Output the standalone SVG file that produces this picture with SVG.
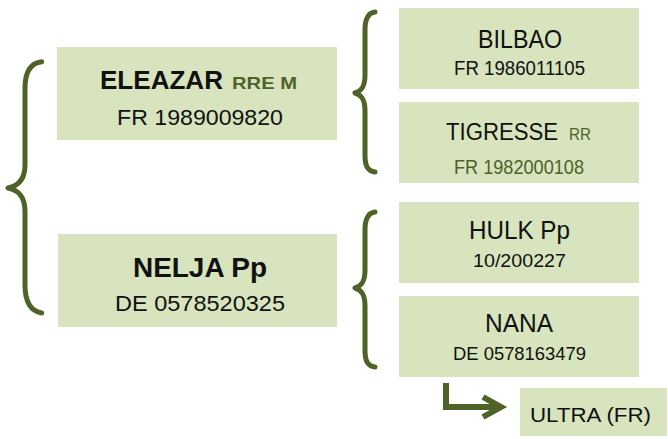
<svg xmlns="http://www.w3.org/2000/svg" width="668" height="439" viewBox="0 0 668 439">
<style>
.box{fill:#d7e4bd}
.br{fill:none;stroke:#4f6228;stroke-width:5;stroke-linecap:round;stroke-linejoin:round}
.ar{fill:none;stroke:#4f6228;stroke-width:6;stroke-linejoin:miter}
text{font-family:"Liberation Sans",Arial,sans-serif;fill:#111}
.b{font-weight:bold}
.g{fill:#4f6228}
</style>
<rect width="668" height="439" fill="#fff"/>
<g id="connectors">
<path class="br" d="M41.7,61.7 C30,63 25,72 25,88 L25,165 C25,180 18,186 8,188 C18,190 25,196 25,212 L25,285 C25,301 30,311 41.7,313"/>
<path class="br" d="M375,12 C367,13 365,20 365,30 L365,75 C365,86 362,91 355,93 C362,95 365,100 365,111 L365,155 C365,165 367,171 375,172"/>
<path class="br" d="M375,212 C367,213 365,220 365,230 L365,270 C365,281 362,286 355,288 C362,290 365,295 365,306 L365,350 C365,360 367,366 375,367"/>
<path class="ar" d="M446,383 L446,407 L500,407"/>
<path class="ar" d="M483,397 L501,407 L483,417"/>
</g>
<g id="eleazar">
<rect class="box" x="57" y="47" width="280" height="93"/>
<text class="b" x="100" y="89" font-size="25" textLength="123" lengthAdjust="spacingAndGlyphs">ELEAZAR</text>
<text class="b g" x="232" y="89" font-size="16.5" textLength="65" lengthAdjust="spacingAndGlyphs">RRE M</text>
<text x="117" y="125" font-size="22.5" textLength="166" lengthAdjust="spacingAndGlyphs">FR 1989009820</text>
</g>
<g id="nelja">
<rect class="box" x="58" y="234" width="279" height="93"/>
<text class="b" x="133" y="277" font-size="28" textLength="134" lengthAdjust="spacingAndGlyphs">NELJA Pp</text>
<text x="115" y="311" font-size="22.5" textLength="170" lengthAdjust="spacingAndGlyphs">DE 0578520325</text>
</g>
<g id="bilbao">
<rect class="box" x="399" y="8" width="240" height="81"/>
<text x="478" y="48" font-size="25" textLength="84" lengthAdjust="spacingAndGlyphs">BILBAO</text>
<text x="454" y="75" font-size="19.5" textLength="131" lengthAdjust="spacingAndGlyphs">FR 1986011105</text>
</g>
<g id="tigresse">
<rect class="box" x="399" y="102" width="240" height="81"/>
<text x="446" y="140" font-size="23.5" textLength="112" lengthAdjust="spacingAndGlyphs">TIGRESSE</text>
<text class="g" x="569" y="140" font-size="16.5" textLength="22" lengthAdjust="spacingAndGlyphs">RR</text>
<text class="g" x="454" y="174.3" font-size="19.5" textLength="130" lengthAdjust="spacingAndGlyphs">FR 1982000108</text>
</g>
<g id="hulk">
<rect class="box" x="399" y="202" width="240" height="81"/>
<text x="469" y="238.5" font-size="25" textLength="101" lengthAdjust="spacingAndGlyphs">HULK Pp</text>
<text x="473" y="267" font-size="19" textLength="93" lengthAdjust="spacingAndGlyphs">10/200227</text>
</g>
<g id="nana">
<rect class="box" x="399" y="296" width="240" height="81"/>
<text x="485" y="332.3" font-size="25" textLength="68" lengthAdjust="spacingAndGlyphs">NANA</text>
<text x="453" y="360" font-size="19" textLength="133" lengthAdjust="spacingAndGlyphs">DE 0578163479</text>
</g>
<g id="ultra">
<rect class="box" x="520" y="388" width="147" height="48"/>
<text x="530" y="421.7" font-size="20.5" textLength="121" lengthAdjust="spacingAndGlyphs">ULTRA (FR)</text>
</g>
</svg>
